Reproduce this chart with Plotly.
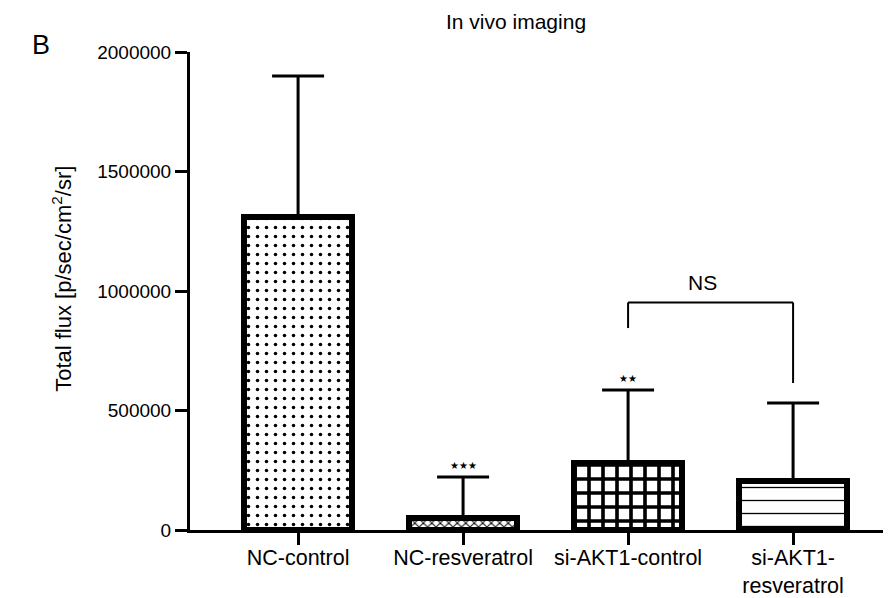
import plotly.graph_objects as go

categories = ["NC-control", "NC-resveratrol", "si-AKT1-control", "si-AKT1-<br>resveratrol"]
means = [1308000, 52000, 280000, 207000]
sd_upper = [592000, 170000, 306000, 324000]
patterns = [".", "x", "+", "-"]
stars = ["", "★★★", "★★", ""]
yticks = [0, 500000, 1000000, 1500000, 2000000]

FONT = "Liberation Sans, Arial, sans-serif"
x_idx = list(range(len(categories)))

pattern_style = {
    ".": dict(size=9, solidity=0.12),
    "x": dict(size=6, solidity=0.3),
    "+": dict(size=14, solidity=0.45),
    "-": dict(size=13, solidity=0.1),
}

fig = go.Figure()
for i, (m, e, p) in enumerate(zip(means, sd_upper, patterns)):
    pat = dict(shape=p, fgcolor="black", bgcolor="white", fillmode="replace", **pattern_style[p])
    fig.add_trace(go.Bar(
        x=[i], y=[m], width=0.65,
        marker=dict(color="white", line=dict(color="black", width=6), pattern=pat),
        error_y=dict(type="data", symmetric=False, array=[e], arrayminus=[0],
                     color="black", thickness=3, width=26),
        showlegend=False,
    ))

# significance stars
for i, s in enumerate(stars):
    if s:
        fig.add_annotation(x=i, y=means[i] + sd_upper[i], text=s, showarrow=False,
                           yanchor="bottom", yshift=4,
                           font=dict(size=10, family="DejaVu Sans", color="black"))

# NS bracket between si-AKT1-control and si-AKT1-resveratrol
b_top = 952000
left_bottom = means[2] + sd_upper[2] + 259000
right_bottom = means[3] + sd_upper[3] + 84000
fig.add_shape(type="line", x0=2, x1=2, y0=left_bottom, y1=b_top, line=dict(color="black", width=2))
fig.add_shape(type="line", x0=2, x1=3, y0=b_top, y1=b_top, line=dict(color="black", width=2))
fig.add_shape(type="line", x0=3, x1=3, y0=b_top, y1=right_bottom, line=dict(color="black", width=2))
fig.add_annotation(x=2.45, y=b_top, text="NS", showarrow=False, yanchor="bottom", yshift=6,
                   font=dict(size=21, family=FONT, color="black"))

fig.add_annotation(xref="paper", yref="paper", x=0.471, y=1.0, xanchor="center", yanchor="middle",
                   yshift=31, text="In vivo imaging", showarrow=False,
                   font=dict(size=21, family=FONT, color="black"))
fig.add_annotation(xref="paper", yref="paper", x=-0.215, y=1.0, xanchor="center", yanchor="middle",
                   yshift=7, text="B", showarrow=False, font=dict(size=27, family=FONT, color="black"))
fig.add_annotation(xref="paper", yref="paper", x=-0.185, y=0.525, xanchor="center", yanchor="middle",
                   textangle=-90, text="Total flux [p/sec/cm<sup>2</sup>/sr]", showarrow=False,
                   font=dict(size=22, family=FONT, color="black"))

fig.update_layout(
    width=887, height=590,
    margin=dict(l=182, r=12, t=44, b=68),
    paper_bgcolor="white", plot_bgcolor="white",
    font=dict(family=FONT, size=20, color="black"),
    bargap=0,
)
fig.update_xaxes(
    range=[-0.655, 3.545], tickvals=x_idx, ticktext=categories,
    showline=True, linecolor="black", linewidth=3,
    ticks="outside", ticklen=12, tickwidth=3, tickcolor="black",
    showgrid=False, zeroline=False, tickfont=dict(size=21.5),
    automargin=False, ticklabelstandoff=-6,
)
fig.update_yaxes(
    range=[0, 2000000], tickvals=yticks, ticktext=[str(v) for v in yticks],
    showline=True, linecolor="black", linewidth=3,
    ticks="outside", ticklen=12, tickwidth=3, tickcolor="black",
    showgrid=False, zeroline=False, tickfont=dict(size=19),
    automargin=False,
)
fig.write_html("out.html")
